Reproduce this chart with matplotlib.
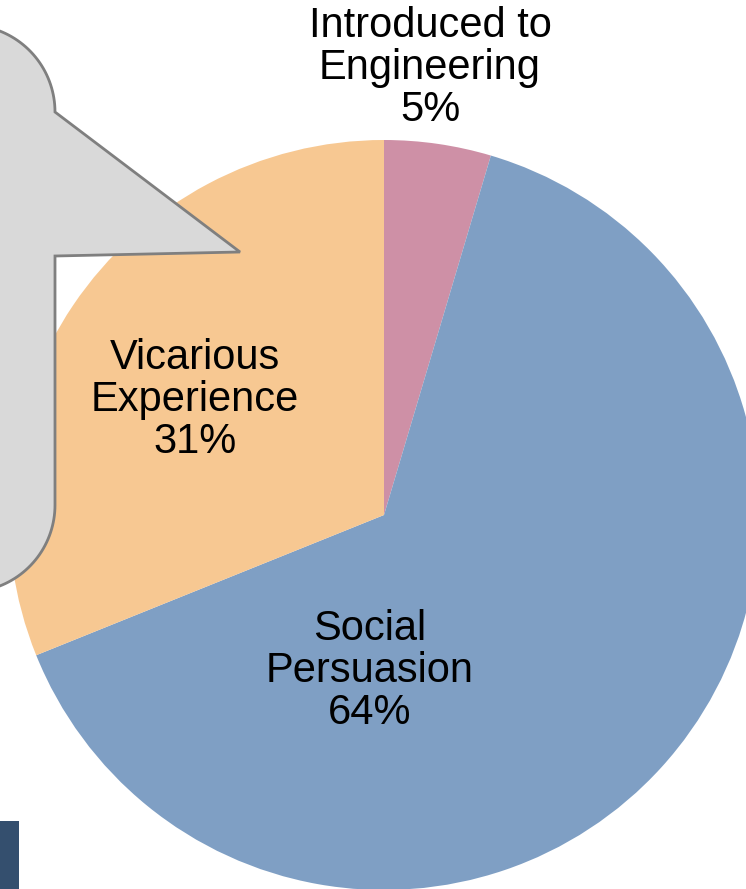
import numpy as np
import matplotlib
matplotlib.use("Agg")
import matplotlib.pyplot as plt
from matplotlib.patches import Polygon, Rectangle

# slice data (clockwise from 12 o'clock)
categories = ["Introduced to\nEngineering", "Social\nPersuasion", "Vicarious\nExperience"]
shares = [4.6, 64.3, 31.1]
colors = ["#CE90A6", "#7F9FC4", "#F7C892"]
# label anchor points in pixel coords (x, y from top)
label_pos = [(430, 68), (370, 671), (195, 400)]

W, H = 746, 889
fig = plt.figure(figsize=(W / 100, H / 100), dpi=100)
ax = fig.add_axes([0, 0, 1, 1])

cx, cy, R = 384, H - 515, 375
ax.pie(shares, colors=colors, startangle=90, counterclock=False,
       center=(cx, cy), radius=R, frame=True,
       wedgeprops=dict(linewidth=0))
ax.set_xlim(0, W)
ax.set_ylim(0, H)
ax.set_aspect("equal")
ax.axis("off")

total = sum(shares)
for name, val, (lx, ly) in zip(categories, shares, label_pos):
    ax.text(lx, H - ly, f"{name}\n{val / total * 100:.0f}%", ha="center", va="center",
            fontsize=30, family="Liberation Sans", linespacing=1.06, color="black")

# grey callout bubble on the left
def arc(xc, yc, r, a0, a1, n=40):
    t = np.radians(np.linspace(a0, a1, n))
    return list(zip(xc + r * np.cos(t), yc + r * np.sin(t)))

r = 87
pts = []
pts += [(-300, 25), (55 - r, 25)]
pts += arc(55 - r, 25 + r, r, -90, 0)       # top-right corner (image coords)
pts += [(55, 112), (240, 252), (55, 256), (55, 505)]
pts += arc(55 - r, 505, r, 0, 90)           # bottom-right corner
pts += [(-300, 505 + r)]
pts = [(x, H - y) for x, y in pts]
ax.add_patch(Polygon(pts, closed=True, facecolor="#D9D9D9", edgecolor="#7F7F7F",
                     linewidth=2, zorder=5))

# dark block bottom-left
ax.add_patch(Rectangle((0, 0), 19, H - 821, facecolor="#344F6E", edgecolor="none", zorder=5))

fig.savefig("out.png", dpi=100)
